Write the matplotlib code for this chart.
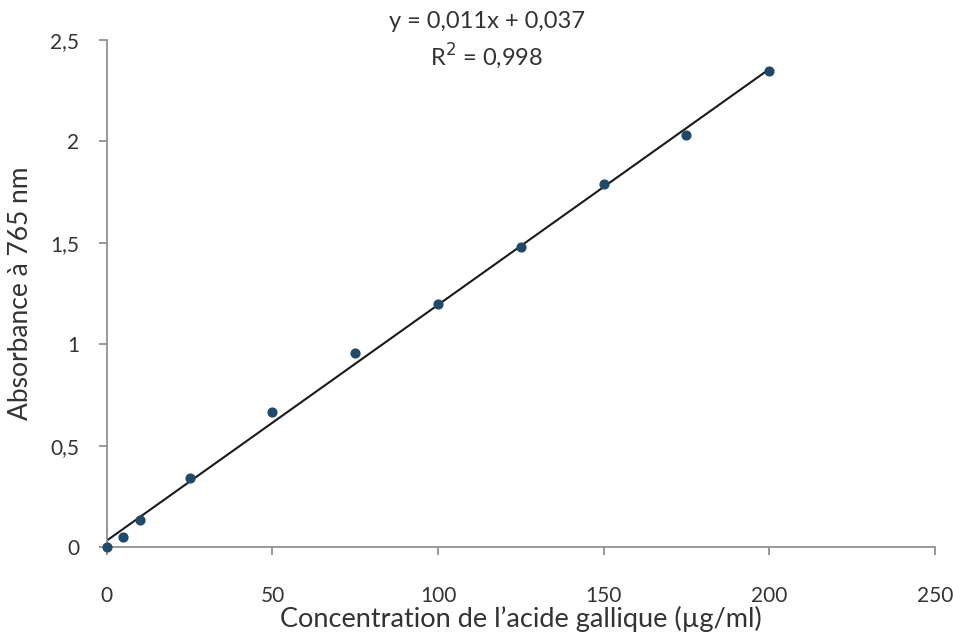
import matplotlib
matplotlib.use("Agg")
import matplotlib.pyplot as plt
import numpy as np
from matplotlib.ticker import FuncFormatter

plt.rcParams['font.family'] = ['Lato', 'DejaVu Sans']

concentration = [0, 5, 10, 25, 50, 75, 100, 125, 150, 175, 200]
absorbance = [0.0, 0.05, 0.135, 0.34, 0.665, 0.955, 1.20, 1.48, 1.79, 2.03, 2.345]
x_ticks = [0, 50, 100, 150, 200, 250]
y_ticks = [0, 0.5, 1, 1.5, 2, 2.5]
equation = "y = 0,011x + 0,037"
r2_text = "R$^2$ = 0,998"

fig = plt.figure(figsize=(9.54, 6.34), dpi=100)
ax = fig.add_axes([0.112, 0.137, 0.868, 0.800])

slope, intercept = np.polyfit(concentration, absorbance, 1)
xl = np.array([concentration[0], concentration[-1]])
ax.plot(xl, slope * xl + intercept, color='#1a1a1a', lw=1.5, zorder=2)
ax.scatter(concentration, absorbance, s=40, color='#1f4a6b', zorder=3, clip_on=False)

ax.set_xlim(0, 250)
ax.set_ylim(0, 2.5)
ax.set_xticks(x_ticks)
ax.set_yticks(y_ticks)
fmt = FuncFormatter(lambda v, p: ('%g' % v).replace('.', ','))
ax.xaxis.set_major_formatter(fmt)
ax.yaxis.set_major_formatter(fmt)

for s in ['top', 'right']:
    ax.spines[s].set_visible(False)
for s in ['left', 'bottom']:
    ax.spines[s].set_color('#888888')
    ax.spines[s].set_linewidth(1.2)
ax.tick_params(axis='both', direction='out', length=6, width=1.2, color='#888888',
               labelsize=15, labelcolor='#333333')
ax.tick_params(axis='x', pad=22)
ax.tick_params(axis='y', pad=14)

ax.set_xlabel("Concentration de l\u2019acide gallique (\u00b5g/ml)", fontsize=19.5, color='#333333', labelpad=0)
ax.set_ylabel("Absorbance à 765 nm", fontsize=19, color='#333333', labelpad=12)

fig.text(487 / 954, 1 - 22 / 634, equation, ha='center', va='center',
         fontsize=17, color='#333333')
fig.text(487 / 954, 1 - 56 / 634, r2_text, ha='center', va='center',
         fontsize=17, color='#333333')

fig.savefig("out.png", dpi=100)
